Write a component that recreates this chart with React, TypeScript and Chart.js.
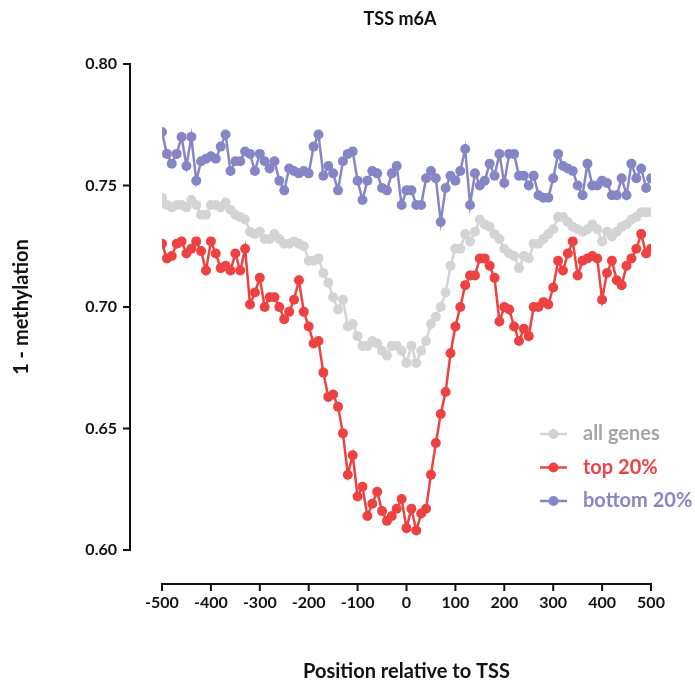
import React, { useEffect, useRef } from "react";
import { Chart, registerables } from "chart.js";

Chart.register(...registerables);

const positions = [
  -500, -490, -480, -470, -460, -450, -440, -430, -420, -410,
  -400, -390, -380, -370, -360, -350, -340, -330, -320, -310,
  -300, -290, -280, -270, -260, -250, -240, -230, -220, -210,
  -200, -190, -180, -170, -160, -150, -140, -130, -120, -110,
  -100, -90, -80, -70, -60, -50, -40, -30, -20, -10,
  0, 10, 20, 30, 40, 50, 60, 70, 80, 90,
  100, 110, 120, 130, 140, 150, 160, 170, 180, 190,
  200, 210, 220, 230, 240, 250, 260, 270, 280, 290,
  300, 310, 320, 330, 340, 350, 360, 370, 380, 390,
  400, 410, 420, 430, 440, 450, 460, 470, 480, 490,
  500,
];

const allGenes = [
  0.745, 0.742, 0.741, 0.742, 0.742, 0.741, 0.744, 0.742, 0.738, 0.738,
  0.742, 0.742, 0.741, 0.743, 0.740, 0.738, 0.737, 0.736, 0.731, 0.730,
  0.731, 0.728, 0.728, 0.730, 0.728, 0.726, 0.726, 0.727, 0.726, 0.725,
  0.719, 0.719, 0.720, 0.714, 0.710, 0.704, 0.699, 0.703, 0.692, 0.693,
  0.688, 0.684, 0.684, 0.686, 0.685, 0.682, 0.680, 0.684, 0.684, 0.682,
  0.677, 0.684, 0.677, 0.682, 0.686, 0.693, 0.696, 0.700, 0.706, 0.717,
  0.724, 0.724, 0.730, 0.727, 0.731, 0.736, 0.734, 0.733, 0.730, 0.728,
  0.724, 0.722, 0.721, 0.716, 0.721, 0.720, 0.726, 0.726, 0.728, 0.730,
  0.732, 0.737, 0.737, 0.735, 0.733, 0.732, 0.731, 0.732, 0.734, 0.732,
  0.727, 0.731, 0.729, 0.731, 0.733, 0.734, 0.736, 0.737, 0.739, 0.739,
  0.739,
];

const top20 = [
  0.726, 0.720, 0.721, 0.726, 0.727, 0.722, 0.724, 0.727, 0.723, 0.715,
  0.727, 0.722, 0.716, 0.717, 0.715, 0.722, 0.715, 0.724, 0.701, 0.706,
  0.712, 0.700, 0.704, 0.704, 0.700, 0.695, 0.698, 0.703, 0.711, 0.698,
  0.692, 0.685, 0.686, 0.673, 0.663, 0.664, 0.659, 0.648, 0.631, 0.639,
  0.622, 0.626, 0.614, 0.619, 0.624, 0.616, 0.612, 0.614, 0.617, 0.621,
  0.609, 0.617, 0.608, 0.615, 0.617, 0.631, 0.644, 0.656, 0.665, 0.681,
  0.692, 0.700, 0.709, 0.713, 0.713, 0.720, 0.720, 0.717, 0.712, 0.694,
  0.700, 0.699, 0.692, 0.686, 0.691, 0.688, 0.700, 0.700, 0.702, 0.701,
  0.708, 0.719, 0.715, 0.722, 0.727, 0.713, 0.719, 0.720, 0.721, 0.720,
  0.703, 0.714, 0.719, 0.711, 0.709, 0.717, 0.720, 0.724, 0.730, 0.722,
  0.724,
];

const bottom20 = [
  0.772, 0.763, 0.759, 0.763, 0.770, 0.758, 0.770, 0.752, 0.760, 0.761,
  0.762, 0.761, 0.766, 0.771, 0.756, 0.760, 0.760, 0.764, 0.763, 0.756,
  0.763, 0.760, 0.757, 0.760, 0.752, 0.748, 0.757, 0.756, 0.755, 0.756,
  0.755, 0.766, 0.771, 0.754, 0.758, 0.755, 0.748, 0.760, 0.763, 0.764,
  0.752, 0.744, 0.752, 0.756, 0.755, 0.749, 0.748, 0.755, 0.758, 0.742,
  0.748, 0.748, 0.742, 0.742, 0.753, 0.756, 0.753, 0.735, 0.749, 0.754,
  0.752, 0.756, 0.765, 0.742, 0.755, 0.750, 0.752, 0.759, 0.754, 0.763,
  0.751, 0.763, 0.763, 0.754, 0.754, 0.750, 0.754, 0.746, 0.745, 0.745,
  0.753, 0.763, 0.758, 0.757, 0.756, 0.750, 0.746, 0.759, 0.750, 0.750,
  0.752, 0.751, 0.746, 0.746, 0.753, 0.746, 0.759, 0.753, 0.757, 0.749,
  0.753,
];

const seriesNames = ["all genes", "top 20%", "bottom 20%"];
const seriesColors = ["#D4D4D4", "#EE4242", "#8686C6"];
const legendTextColors = ["#A5A5A5", "#EE4242", "#8686C6"];
const yTickValues = [0.6, 0.65, 0.7, 0.75, 0.8];
const xTickValues = [-500, -400, -300, -200, -100, 0, 100, 200, 300, 400, 500];

const chartTitle = "TSS m6A";
const xTitle = "Position relative to TSS";
const yTitle = "1 - methylation";

const FONT = "Lato, 'Open Sans', 'DejaVu Sans', sans-serif";

const decorPlugin = {
  id: "decor",
  afterDraw(chart: any) {
    const { ctx, chartArea, scales } = chart;
    const xs = scales.x;
    const ys = scales.y;
    ctx.save();
    ctx.strokeStyle = "#111";
    ctx.lineWidth = 2;
    ctx.lineCap = "butt";
    // y axis (offset to the left of the plot)
    const yAxisX = chartArea.left - 32;
    const yTop = ys.getPixelForValue(0.8);
    const yBot = ys.getPixelForValue(0.6);
    ctx.beginPath();
    ctx.moveTo(yAxisX, yTop - 1);
    ctx.lineTo(yAxisX, yBot + 1);
    yTickValues.forEach((v) => {
      const py = ys.getPixelForValue(v);
      ctx.moveTo(yAxisX + 1, py);
      ctx.lineTo(yAxisX - 7, py);
    });
    ctx.stroke();
    // x axis (offset below the plot)
    const xAxisY = chartArea.bottom + 34;
    ctx.beginPath();
    ctx.moveTo(xs.getPixelForValue(-500) - 1, xAxisY);
    ctx.lineTo(xs.getPixelForValue(500) + 1, xAxisY);
    xTickValues.forEach((v) => {
      const px = xs.getPixelForValue(v);
      ctx.moveTo(px, xAxisY - 1);
      ctx.lineTo(px, xAxisY + 7);
    });
    ctx.stroke();

    // title
    ctx.fillStyle = "#111";
    ctx.font = `bold 18px ${FONT}`;
    ctx.textAlign = "center";
    ctx.textBaseline = "middle";
    ctx.fillText(chartTitle, 400, 19);

    // legend
    const lx = 540;
    seriesNames.forEach((name, k) => {
      const ly = 434 + k * 33.5;
      ctx.strokeStyle = seriesColors[k];
      ctx.lineWidth = 2.5;
      ctx.beginPath();
      ctx.moveTo(lx, ly);
      ctx.lineTo(lx + 27, ly);
      ctx.stroke();
      ctx.fillStyle = seriesColors[k];
      ctx.beginPath();
      ctx.arc(lx + 13.5, ly, 5, 0, Math.PI * 2);
      ctx.fill();
      ctx.fillStyle = legendTextColors[k];
      ctx.font = `bold 20px ${FONT}`;
      ctx.textAlign = "left";
      ctx.textBaseline = "middle";
      ctx.fillText(name, lx + 43, ly);
    });
    ctx.restore();
  },
};

export default function App() {
  const canvasRef = useRef<HTMLCanvasElement | null>(null);

  useEffect(() => {
    if (!canvasRef.current) return;
    const series = [allGenes, top20, bottom20];
    const chart = new Chart(canvasRef.current, {
      type: "line",
      data: {
        datasets: series.map((vals, k) => ({
          label: seriesNames[k],
          data: positions.map((p, i) => ({ x: p, y: vals[i] })),
          borderColor: seriesColors[k],
          backgroundColor: seriesColors[k],
          pointBackgroundColor: seriesColors[k],
          pointBorderWidth: 0,
          pointRadius: 5,
          borderWidth: 2.5,
          tension: 0,
          fill: false,
          order: 3 - k,
        })),
      },
      options: {
        responsive: false,
        animation: false,
        layout: { padding: { left: 0, right: 44, top: 64, bottom: 0 } },
        plugins: {
          legend: { display: false },
          title: { display: false },
          tooltip: { enabled: false },
        },
        scales: {
          x: {
            type: "linear",
            min: -500,
            max: 500,
            grid: { display: false, drawTicks: false },
            border: { display: false },
            afterFit: (s: any) => {
              s.height = 135;
              s.paddingLeft = 0;
              s.paddingRight = 0;
            },
            afterBuildTicks: (s: any) => {
              s.ticks = xTickValues.map((v) => ({ value: v }));
            },
            ticks: {
              padding: 43,
              maxRotation: 0,
              autoSkip: false,
              color: "#111",
              font: { family: FONT, size: 16, weight: "bold" },
              callback: (v: any) => String(v),
            },
            title: {
              display: true,
              text: xTitle,
              color: "#111",
              font: { family: FONT, size: 20, weight: "bold" },
              padding: { top: 0, bottom: 1 },
            },
          },
          y: {
            type: "linear",
            min: 0.6,
            max: 0.8,
            grid: { display: false, drawTicks: false },
            border: { display: false },
            afterFit: (s: any) => {
              s.width = 162;
              s.paddingTop = 0;
              s.paddingBottom = 0;
            },
            afterBuildTicks: (s: any) => {
              s.ticks = yTickValues.map((v) => ({ value: v }));
            },
            ticks: {
              padding: 45,
              color: "#111",
              font: { family: FONT, size: 16, weight: "bold" },
              callback: (v: any) => Number(v).toFixed(2),
            },
            title: {
              display: true,
              text: yTitle,
              color: "#111",
              font: { family: FONT, size: 20, weight: "bold" },
              padding: { top: 10, bottom: 0 },
            },
          },
        },
      },
      plugins: [decorPlugin],
    });
    return () => chart.destroy();
  }, []);

  return (
    <div style={{ position: "absolute", left: 0, top: 0, width: 695, height: 685, background: "#fff" }}>
      <canvas ref={canvasRef} width={695} height={685} style={{ display: "block" }} />
    </div>
  );
}
